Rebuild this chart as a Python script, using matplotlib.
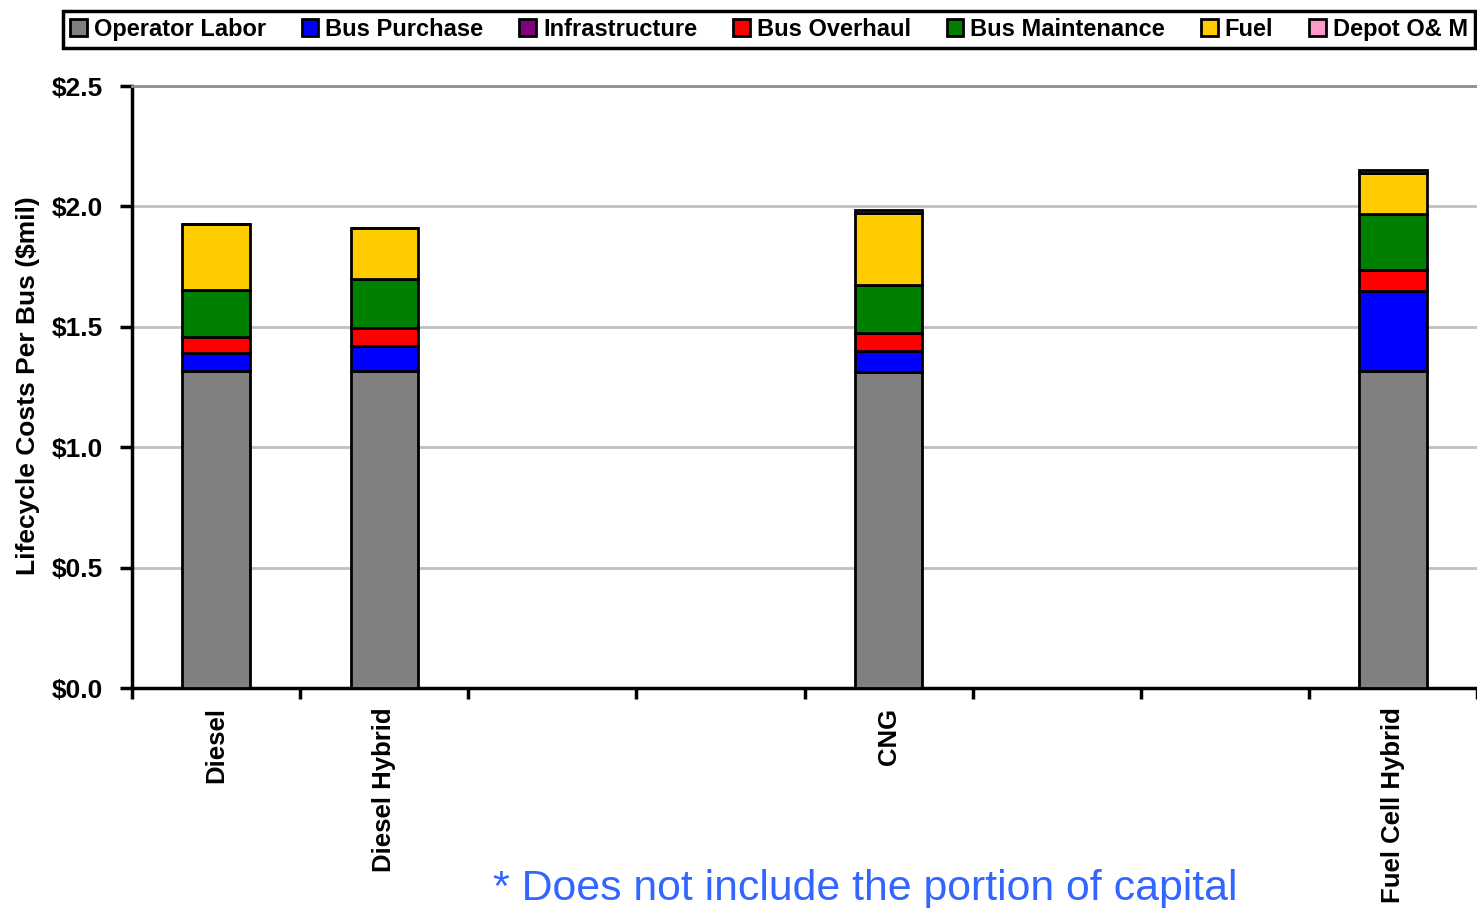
import numpy as np
import matplotlib
matplotlib.use("Agg")
import matplotlib.pyplot as plt
from matplotlib.patches import Patch

plt.rcParams['font.family'] = ['Liberation Sans', 'DejaVu Sans']

# eight category slots along the axis, only four carry a bus type
categories = ['Diesel', 'Diesel Hybrid', '', '', 'CNG', '', '', 'Fuel Cell Hybrid']
nan = np.nan

# lifecycle cost components per bus, $ millions
operator_labor = [1.316, 1.316, nan, nan, 1.312, nan, nan, 1.316]
bus_purchase = [0.075, 0.104, nan, nan, 0.088, nan, nan, 0.333]
infrastructure = [0.0, 0.0, nan, nan, 0.0, nan, nan, 0.0]
bus_overhaul = [0.066, 0.075, nan, nan, 0.074, nan, nan, 0.087]
bus_maintenance = [0.195, 0.204, nan, nan, 0.200, nan, nan, 0.232]
fuel = [0.273, 0.211, nan, nan, 0.299, nan, nan, 0.171]
depot_om = [0.0, 0.0, nan, nan, 0.010, nan, nan, 0.012]

series = [
    ('Operator Labor', operator_labor, '#808080'),
    ('Bus Purchase', bus_purchase, '#0000FF'),
    ('Infrastructure', infrastructure, '#800080'),
    ('Bus Overhaul', bus_overhaul, '#FF0000'),
    ('Bus Maintenance', bus_maintenance, '#008000'),
    ('Fuel', fuel, '#FFCC00'),
    ('Depot O& M', depot_om, '#FF99CC'),
]
yticks = [0.0, 0.5, 1.0, 1.5, 2.0, 2.5]

fig = plt.figure(figsize=(14.77, 9.08), dpi=100)
ax = fig.add_axes([132 / 1477, 1 - 688 / 908, 1345 / 1477, 602 / 908])

x = np.arange(len(categories)) + 0.5
bottom = np.zeros(len(categories))
for name, vals, color in series:
    vals = np.array(vals, dtype=float)
    ax.bar(x, vals, width=0.4, bottom=bottom, color=color,
           edgecolor='black', linewidth=2, zorder=3)
    bottom = bottom + vals

ax.set_xlim(0, len(categories))
ax.set_ylim(0, 2.5)

# slot boundaries get the tick marks, names sit under the slot centres
ax.set_xticks(np.arange(len(categories) + 1))
ax.set_xticklabels([])
ax.set_xticks(x, minor=True)
ax.set_xticklabels(categories, minor=True, rotation=90, va='top', ha='center',
                   fontsize=18.5, fontweight='bold')
ax.tick_params(axis='x', which='major', direction='out', length=8, width=2.5)
ax.tick_params(axis='x', which='minor', length=0, pad=14)

ax.set_yticks(yticks)
ax.set_yticklabels([f'${v:.1f}' for v in yticks], fontsize=19, fontweight='bold')
ax.tick_params(axis='y', direction='out', length=9, width=2.5, pad=12)

ax.grid(axis='y', color='#C0C0C0', linewidth=2, zorder=0)
ax.set_axisbelow(True)
for side in ['left', 'bottom']:
    ax.spines[side].set_linewidth(2.5)
    ax.spines[side].set_color('black')
ax.spines['top'].set_color('#909090')
ax.spines['top'].set_linewidth(2)
ax.spines['right'].set_visible(False)

fig.text(28 / 1477, 1 - 386 / 908, 'Lifecycle Costs Per Bus ($mil)', rotation=90,
         ha='center', va='center', fontsize=19, fontweight='bold')

handles = [Patch(facecolor=c, edgecolor='black', linewidth=2) for _, _, c in series]
leg = fig.legend(handles, [n for n, _, _ in series], ncol=7, loc='center left',
                 bbox_to_anchor=(63 / 1477, 1 - 52 / 908, (1475 - 63) / 1477, 45 / 908),
                 mode='expand', fancybox=False, framealpha=1, edgecolor='black',
                 handlelength=0.7, handleheight=0.7, handletextpad=0.3,
                 borderpad=0.3, borderaxespad=0, columnspacing=0.8,
                 prop={'weight': 'bold', 'size': 17})
leg.get_frame().set_linewidth(2.5)

fig.text(493 / 1477, 1 - 889 / 908, '* Does not include the portion of capital',
         color='#3366FF', fontsize=30.8, ha='left', va='center')

fig.savefig('out.png', dpi=100)
